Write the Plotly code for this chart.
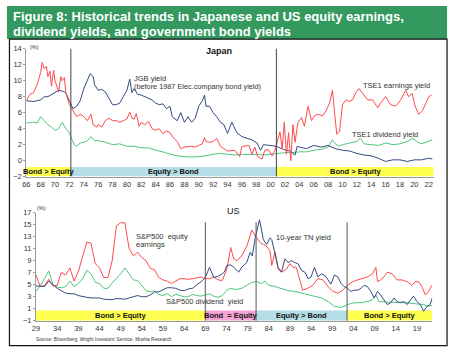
import plotly.graph_objects as go

W, H = 451, 356
def px(x): return x / W
def py(y): return 1 - y / H

# ---------------- Japan data ----------------
jp_jgb_x = [1966, 1967, 1968, 1968.5, 1969, 1970, 1970.5, 1971, 1971.5, 1972, 1972.5, 1973, 1973.5,
            1974, 1974.5, 1974.9, 1975.3, 1975.5, 1976, 1976.5, 1977, 1977.5, 1978, 1978.5, 1979,
            1979.5, 1980, 1980.4, 1980.7, 1981, 1981.5, 1982, 1982.5, 1983, 1983.5, 1984, 1984.5,
            1985, 1985.5, 1986, 1986.3, 1987, 1987.5, 1988, 1988.5, 1989, 1989.5, 1990, 1990.5,
            1990.8, 1991, 1991.5, 1992, 1992.5, 1993, 1993.5, 1994, 1994.6, 1995.3, 1996, 1996.7,
            1997.4, 1998.1, 1998.6, 1999, 1999.7, 2000.4, 2000.8, 2001.8, 2002.7, 2003.4, 2003.7,
            2004, 2005, 2006, 2007, 2008, 2009, 2010, 2011, 2012, 2013, 2014, 2015, 2016, 2017,
            2018, 2019, 2020, 2021, 2022, 2022.5]
jp_jgb = [7.5, 7.4, 7.6, 8.0, 8.0, 8.5, 8.8, 8.7, 8.5, 7.5, 6.5, 6.8, 7.5,
          9.0, 10.0, 10.9, 10.5, 9.5, 8.8, 8.9, 8.6, 7.8, 7.0, 7.0, 7.2,
          8.0, 8.8, 10.2, 8.5, 9.0, 8.3, 8.2, 8.0, 7.8, 7.6, 7.2, 7.0,
          7.1, 6.5, 6.8, 5.5, 5.0, 6.0, 4.8, 5.5, 4.8, 5.3, 6.8, 7.5,
          8.2, 6.8, 6.8, 6.0, 5.5, 4.8, 4.5, 3.4, 4.8, 3.5, 3.0, 2.8,
          2.6, 2.2, 1.3, 2.0, 1.9, 1.8, 1.8, 1.4, 1.2, 0.7, 1.8,
          1.7, 1.5, 1.9, 1.7, 1.9, 1.5, 1.3, 1.2, 0.9, 0.7, 0.6, 0.3, -0.1, 0.1,
          0.1, -0.1, 0.1, 0.1, 0.3, 0.2]

jp_ey_x = [1966, 1966.5, 1967, 1967.5, 1968, 1968.2, 1968.5, 1968.8, 1969, 1969.3, 1969.5, 1969.8,
           1970, 1970.3, 1970.5, 1970.8, 1971, 1971.3, 1971.5, 1972, 1972.5, 1973, 1973.5, 1974,
           1974.5, 1975, 1975.3, 1975.8, 1976, 1976.5, 1977, 1977.5, 1978, 1978.5, 1979, 1979.5,
           1980, 1980.4, 1980.7, 1981, 1981.3, 1981.7, 1982, 1982.5, 1983, 1983.5, 1984, 1984.5,
           1985, 1985.5, 1986, 1986.5, 1987, 1987.5, 1988, 1989, 1989.5, 1990, 1990.5, 1990.8,
           1991, 1991.5, 1992, 1992.5, 1993, 1993.5, 1994, 1995, 1995.7, 1996, 1996.3, 1997,
           1997.4, 1997.8, 1998.2, 1998.8, 1999.2, 1999.7, 2000.2, 2000.6, 2001.0, 2001.3, 2001.6,
           2001.9, 2002.2, 2002.5, 2002.8, 2003.1, 2003.4, 2003.8, 2004.3, 2004.7, 2005.2, 2005.7,
           2006.1, 2006.6, 2007.2, 2007.7, 2008.2, 2008.6, 2008.9, 2009.2, 2009.6, 2010.0, 2010.5,
           2010.9, 2011.4, 2011.9, 2012.3, 2012.8, 2013.5, 2014.2, 2014.9, 2015.3, 2016.0, 2016.7,
           2017.4, 2018.1, 2018.8, 2019.2, 2019.7, 2020.1, 2020.6, 2021.1, 2021.5, 2022.0, 2022.4]
jp_ey = [7.5, 8.3, 8.5, 9.5, 11.0, 12.3, 11.5, 11.8, 10.5, 11.2, 9.3, 11.3,
         10.0, 9.0, 8.6, 10.5, 10.0, 10.4, 8.5, 7.0, 6.2, 5.5, 5.8, 5.5,
         5.0, 5.8, 4.5, 4.2, 4.5, 4.2, 5.0, 5.3, 5.0, 5.0, 4.8, 5.0,
         5.2, 6.1, 5.3, 5.2, 5.9, 4.3, 4.8, 4.5, 4.9, 4.0, 3.8, 4.0,
         3.4, 3.7, 3.5, 2.8, 2.4, 1.5, 1.7, 1.8, 1.7, 1.9, 2.1, 2.9,
         2.4, 2.3, 2.4, 2.8, 1.8, 1.5, 1.2, 1.3, 0.5, 1.8, 1.8, 1.9,
         0.8, 1.7, 0.5, 0.2, 1.3, 1.4, 0.6, 1.3, 2.8, 3.6, 1.5,
         4.8, 0.8, 3.5, 0.0, 4.5, 2.3, 4.8, 5.4, 4.3, 6.8, 5.0,
         5.6, 5.8, 5.6, 6.2, 7.2, 8.8, 6.0, 3.3, 3.7, 7.0, 7.6,
         7.4, 7.6, 8.6, 9.0, 8.4, 7.6, 7.6, 6.6, 7.2, 8.0, 7.0,
         6.8, 7.6, 8.8, 8.0, 8.4, 6.8, 5.8, 6.2, 7.0, 8.0, 8.2]

jp_dy_x = [1966, 1967, 1967.5, 1968, 1968.5, 1969, 1969.5, 1970, 1970.5, 1971, 1971.5, 1972,
           1972.3, 1972.7, 1973, 1973.5, 1974, 1974.5, 1975, 1975.5, 1976, 1977, 1978, 1979,
           1980, 1981, 1982, 1983, 1984, 1985, 1986, 1987, 1988, 1989, 1990, 1991, 1992, 1993,
           1994, 1995, 1996, 1997, 1998, 1999, 2000, 2001, 2002, 2003, 2004, 2005, 2006, 2007,
           2008, 2008.6, 2009, 2009.5, 2010, 2011, 2012, 2012.5, 2013, 2014, 2015, 2016, 2017,
           2018, 2019, 2019.8, 2020.5, 2021, 2022, 2022.5]
jp_dy = [4.7, 4.8, 4.7, 5.5, 5.0, 4.5, 4.2, 3.8, 4.0, 4.8, 4.0, 3.5,
         2.7, 2.0, 1.8, 2.2, 2.3, 2.5, 3.0, 2.5, 2.5, 2.3, 2.0, 2.1,
         1.8, 1.8, 1.6, 1.6, 1.3, 1.1, 0.8, 0.6, 0.5, 0.45, 0.5, 0.6, 0.8, 0.9,
         0.8, 0.7, 0.8, 0.75, 0.8, 0.7, 0.8, 0.9, 1.0, 1.0, 1.1, 1.1, 1.3, 1.4,
         1.7, 2.6, 2.1, 1.8, 2.0, 2.2, 2.4, 2.8, 2.1, 2.0, 1.9, 2.2, 2.0,
         2.1, 2.4, 2.8, 2.3, 2.1, 2.4, 2.6]

# ---------------- US data ----------------
us_ann = list(range(1929, 1974))
us_ey_x = us_ann + [1974.1, 1975, 1975.7, 1976.5, 1977.6, 1978.8, 1980, 1980.8, 1982, 1982.7,
                    1983.5, 1984.3, 1984.7, 1985.5, 1986.2, 1987, 1988.2, 1989, 1989.7, 1990.5,
                    1991.3, 1992, 1993.2, 1994.4, 1995.6, 1996.8, 1998, 1999.1, 2000.3, 2001.5,
                    2002.6, 2003.8, 2005, 2006.1, 2007.3, 2008.5, 2009.3, 2009.7, 2010.4, 2011.2,
                    2012, 2013.2, 2014.3, 2015.5, 2016.7, 2017.8, 2018.6, 2019.4, 2020.2, 2021,
                    2021.8, 2022.5]
us_ey = [6.6, 4.7, 4.8, 5.9, 4.8, 4.9, 7.1, 6.6, 7.8, 5.6, 7.2, 9.6, 12.1, 11.9, 8.5, 7.8, 6.2,
         6.2, 9.0, 14.8, 15.3, 15.3, 11.0, 9.8, 10.4, 9.5, 9.0, 7.7, 7.5, 6.2, 5.8, 5.6, 5.2,
         5.6, 6.0, 6.0, 5.9, 6.0, 6.2, 6.3, 6.0, 6.0, 6.3, 5.8, 5.7,
         7.6, 11.2, 9.3, 9.0, 9.8, 11.4, 14.1, 13.1, 12.0, 11.7,
         11.4, 10.6, 8.2, 10.4, 7.6, 7.1, 7.6, 8.5, 7.9, 7.9,
         6.0, 4.1, 4.4, 4.9, 6.0, 5.8, 4.7, 3.9, 3.6, 4.1,
         4.9, 5.5, 5.8, 6.0, 6.3, 6.8, 7.9, 5.5, 5.8, 6.3,
         7.1, 6.8, 5.8, 5.8, 5.5, 4.9, 5.5, 5.5, 4.7, 3.3,
         3.9, 4.9]

us_tn_x = us_ann + [1973.5, 1974.1, 1975, 1975.7, 1976.9, 1977.6, 1978.8, 1979.6, 1980.1, 1980.8,
                    1981.5, 1981.8, 1982.3, 1982.7, 1983.5, 1984.3, 1984.7, 1985.5, 1986.2, 1987,
                    1987.8, 1988.6, 1989.4, 1990.1, 1990.9, 1991.7, 1992.5, 1993.3, 1994, 1994.8,
                    1995.6, 1996.4, 1997.2, 1998, 1998.7, 1999.5, 2000.3, 2001.1, 2001.8, 2002.6,
                    2003.4, 2004.2, 2005, 2005.8, 2006.5, 2007.3, 2008.1, 2008.9, 2009.7, 2010.4,
                    2011.2, 2012, 2012.8, 2013.6, 2014.3, 2015.1, 2015.9, 2016.7, 2017.5, 2018.2,
                    2019, 2019.8, 2020.6, 2021.4, 2022.1, 2022.7]
us_tn = [4.8, 4.8, 4.7, 5.6, 5.0, 4.4, 4.0, 3.6, 3.5, 3.5, 3.2, 3.0, 2.9, 2.8, 2.8, 2.8, 2.6,
         2.5, 2.5, 2.7, 2.7, 2.6, 2.8, 3.0, 3.2, 3.0, 3.0, 3.3, 3.8, 3.8, 4.2, 4.5, 4.5,
         4.4, 4.1, 4.0, 4.3, 4.4, 5.0, 5.5, 6.2, 7.9, 6.2, 6.4, 6.8,
         7.1, 8.2, 8.3, 7.9, 7.1, 7.9, 8.7, 10.4, 9.8, 12.8,
         14.9, 15.8, 14.1, 12.5, 11.7, 12.8, 12.5, 10.1, 7.9, 7.1,
         9.3, 8.7, 9.0, 8.7, 8.5, 7.4, 7.1, 6.0, 6.3, 7.9,
         6.3, 6.8, 6.6, 5.8, 5.1, 6.6, 6.3, 5.2, 4.7, 4.4,
         3.9, 4.1, 4.1, 4.4, 4.9, 4.7, 3.9, 2.8, 3.9, 3.3,
         2.5, 1.7, 2.0, 2.8, 2.2, 2.0, 2.2, 1.7, 2.5, 3.1,
         2.2, 1.7, 0.6, 1.4, 1.7, 2.9]

us_dy_x = us_ann + [1974.1, 1975, 1976.1, 1977.6, 1978.8, 1980, 1981.2, 1982.3, 1983.1, 1983.9,
                    1985.5, 1987, 1988.6, 1990.1, 1991.7, 1993.3, 1994.8, 1996.4, 1998, 1999.5,
                    2001.1, 2002.6, 2004.2, 2005.8, 2007.3, 2008.5, 2009.3, 2010, 2012, 2014.3,
                    2016.7, 2019, 2020.6, 2021.8, 2022.7]
us_dy = [3.9, 4.8, 6.0, 7.3, 5.0, 4.6, 4.5, 4.7, 5.6, 4.7, 5.2, 6.0, 7.4, 6.8, 5.4, 5.2, 4.4,
         4.4, 5.3, 6.0, 6.8, 7.8, 6.8, 5.8, 5.7, 4.8, 4.0, 3.8, 4.0, 3.4, 3.2, 3.5, 3.0,
         3.4, 3.2, 3.0, 3.0, 3.4, 3.2, 3.1, 3.3, 3.5, 3.1, 2.9, 3.2,
         4.1, 4.4, 4.2, 4.4, 4.9, 5.4, 5.5, 5.2, 5.6, 4.9,
         4.7, 4.3, 4.0, 3.9, 3.6, 3.3, 3.1, 2.8, 2.2, 1.4,
         1.2, 1.7, 2.0, 2.0, 2.2, 2.5, 3.3, 2.2, 2.1, 2.1,
         2.0, 1.8, 1.7, 1.4, 1.6]

for a, b in [(jp_jgb_x, jp_jgb), (jp_ey_x, jp_ey), (jp_dy_x, jp_dy),
             (us_ey_x, us_ey), (us_tn_x, us_tn), (us_dy_x, us_dy)]:
    assert len(a) == len(b), (len(a), len(b))

# tick labels
jp_tickvals = list(range(1966, 2023, 2))
jp_ticktext = [str(v)[2:] for v in jp_tickvals]
us_tickvals = list(range(1929, 2020, 5))
us_ticktext = [str(v)[2:] for v in us_tickvals]

# regimes (start, end, label, colour key)
jp_regimes = [(1966, 1972.2, "Bond > Equity", "y"), (1972.2, 2000.8, "Equity > Bond", "b"),
              (2000.8, 2022.7, "Bond > Equity", "y")]
us_regimes = [(1929, 1969, "Bond > Equity", "y"), (1969, 1981, "Bond  = Equity", "p"),
              (1981, 2002.5, "Equity > Bond", "b"), (2002.5, 2022.6, "Bond > Equity", "y")]
jp_splits = [1972.2, 2000.8]
us_splits = [1969, 1981, 2002.5]

RED, BLUE, GREEN = "#ff4a4a", "#34497f", "#4cc77a"
band_col = {"y": "#ffff4f", "b": "#b4dde6", "p": "#f5a3d6"}
FONT = "Liberation Sans, Arial, sans-serif"

fig = go.Figure()
def line(x, y, c, xa, ya):
    fig.add_trace(go.Scatter(x=x, y=y, mode="lines", line=dict(color=c, width=1),
                             xaxis=xa, yaxis=ya, showlegend=False, hoverinfo="skip"))

line(jp_dy_x, jp_dy, GREEN, "x", "y")
line(jp_jgb_x, jp_jgb, BLUE, "x", "y")
line(jp_ey_x, jp_ey, RED, "x", "y")
line(us_dy_x, us_dy, GREEN, "x2", "y2")
line(us_ey_x, us_ey, RED, "x2", "y2")
line(us_tn_x, us_tn, BLUE, "x2", "y2")

shapes, annots = [], []
# title band
shapes.append(dict(type="rect", xref="paper", yref="paper", x0=px(3), x1=px(447), y0=py(36), y1=py(2),
                   fillcolor="#33995f", line=dict(width=0), layer="below"))
# frame
shapes.append(dict(type="rect", xref="paper", yref="paper", x0=px(5.5), x1=px(447), y0=py(350.5), y1=py(36),
                   line=dict(color="#111111", width=1.2), fillcolor="rgba(0,0,0,0)"))
for t, yy in [("Figure 8: Historical trends in Japanese and US equity earnings,", 12.5),
              ("dividend yields, and government bond yields", 28)]:
    annots.append(dict(text="<b>" + t + "</b>", xref="paper", yref="paper", x=px(7), y=py(yy),
                       xanchor="left", yanchor="middle", showarrow=False,
                       font=dict(family=FONT, size=13, color="white")))

# regime bands
for (a, b, lab, k) in jp_regimes:
    shapes.append(dict(type="rect", xref="x", yref="y", x0=a, x1=b, y0=-2, y1=-0.8,
                       fillcolor=band_col[k], line=dict(width=0), layer="below"))
    annots.append(dict(text="<b>" + lab + "</b>", xref="x", yref="y", x=(a + b) / 2, y=-1.4,
                       showarrow=False, font=dict(family=FONT, size=7.5, color="#111")))
for (a, b, lab, k) in us_regimes:
    shapes.append(dict(type="rect", xref="x2", yref="y2", x0=a, x1=b, y0=-1, y1=0.7,
                       fillcolor=band_col[k], line=dict(width=0), layer="below"))
    annots.append(dict(text="<b>" + lab + "</b>", xref="x2", yref="y2", x=(a + b) / 2, y=-0.15,
                       showarrow=False, font=dict(family=FONT, size=7.5, color="#111")))
for s in jp_splits:
    shapes.append(dict(type="line", xref="x", yref="y", x0=s, x1=s, y0=-2, y1=14.4,
                       line=dict(color="#444", width=1)))
for s in us_splits:
    shapes.append(dict(type="line", xref="x2", yref="y2", x0=s, x1=s, y0=-1, y1=15.4,
                       line=dict(color="#555", width=1)))

def txt(t, x, y, size=7, color="#333", anchor="left", bold=False):
    annots.append(dict(text=("<b>%s</b>" % t) if bold else t, xref="paper", yref="paper",
                       x=px(x), y=py(y), xanchor=anchor, yanchor="middle", showarrow=False,
                       font=dict(family=FONT, size=size, color=color)))

txt("Japan", 217, 48, 9, "#111", "center", True)
txt("US", 232, 212, 9, "#111", "center")
txt("(%)", 24, 44, 5.5)
txt("(%)", 31, 209, 5.5)
txt("JGB yield", 129, 76, 7.5)
txt("(before 1987 Elec.company bond yield)", 129, 84.5, 7.3)
txt("TSE1 earnings yield", 360, 84, 7.5)
txt("TSE1 dividend yield", 349, 134, 7.5)
txt("S&P500  equity", 131, 238.5, 7.5)
txt("earnings", 131, 247, 7.5)
txt("S&P500 dividend  yield", 161, 305, 7.5)
txt("10-year TN yield", 272, 240, 7.5)
txt("Source: Bloomberg, Wright Investors' Service, Musha Research", 30, 344, 4.8)

ax_common = dict(showgrid=False, zeroline=False, showline=True, linecolor="#9a9a9a", linewidth=1,
                 ticks="outside", tickcolor="#9a9a9a",
                 tickfont=dict(family=FONT, size=7.5, color="#333"))
fig.update_layout(
    width=W, height=H, margin=dict(l=0, r=0, t=0, b=0),
    paper_bgcolor="white", plot_bgcolor="rgba(0,0,0,0)",
    xaxis=dict(domain=[px(22.5), px(433.6)], range=[1966, 2022.7], tickvals=jp_tickvals,
               ticktext=jp_ticktext, anchor="y", ticklen=0, **ax_common),
    yaxis=dict(domain=[py(177.1), py(45.9)], range=[-2, 14], dtick=2, anchor="x", ticklen=2, **ax_common),
    xaxis2=dict(domain=[px(32.3), px(32.3 + 93.6 * 4.27)], range=[1929, 2022.6], tickvals=us_tickvals,
                ticktext=us_ticktext, anchor="y2", ticklen=0, **ax_common),
    yaxis2=dict(domain=[py(325), py(214)], range=[-1, 17], tickvals=list(range(-1, 18, 2)), anchor="x2",
                ticklen=2, **ax_common),
    shapes=shapes, annotations=annots,
)
fig.write_html("out.html", config={"displayModeBar": False},
               post_script="document.body.style.margin='0px';document.body.style.overflow='hidden';")
